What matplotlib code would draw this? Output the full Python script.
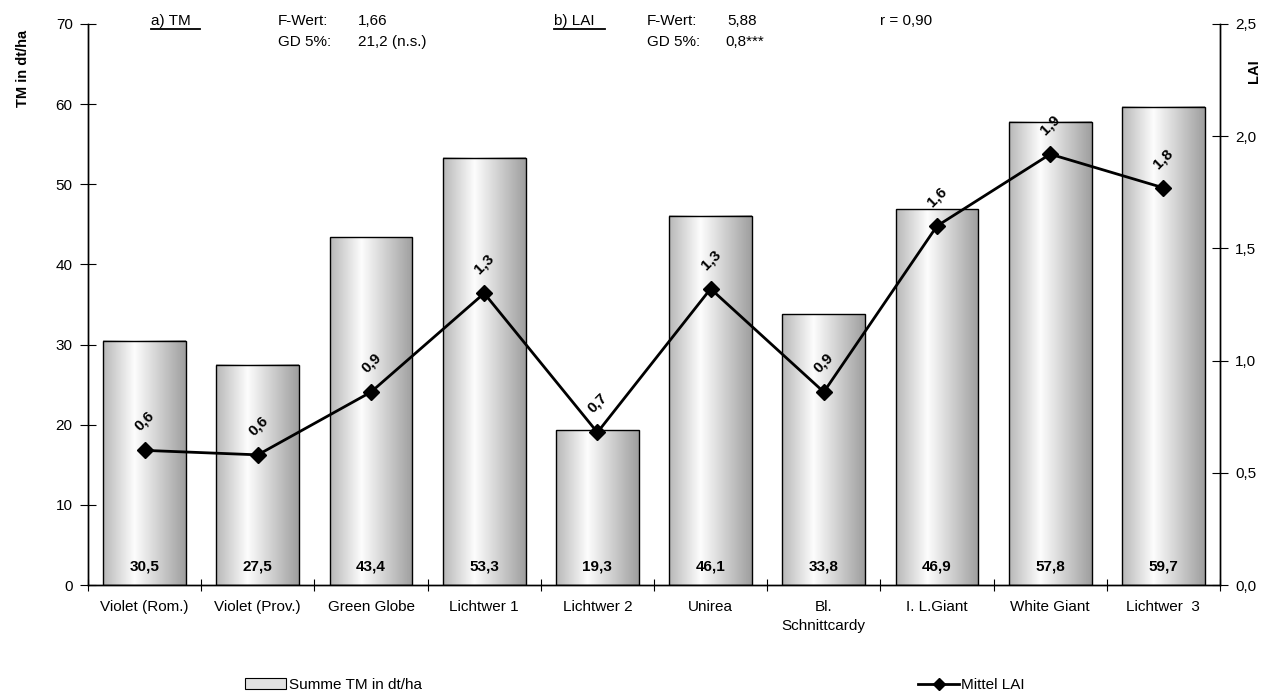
import numpy as np
import matplotlib.pyplot as plt
from matplotlib.lines import Line2D
from matplotlib.patches import Patch

plt.rcParams['font.family'] = ['Liberation Sans', 'DejaVu Sans']

# Daten
sorten = ['Violet (Rom.)', 'Violet (Prov.)', 'Green Globe', 'Lichtwer 1', 'Lichtwer 2',
          'Unirea', 'Bl.\nSchnittcardy', 'I. L.Giant', 'White Giant', 'Lichtwer  3']
tm = [30.5, 27.5, 43.4, 53.3, 19.3, 46.1, 33.8, 46.9, 57.8, 59.7]
lai = [0.60, 0.58, 0.86, 1.30, 0.68, 1.32, 0.86, 1.60, 1.92, 1.77]
lai_txt = ['0,6', '0,6', '0,9', '1,3', '0,7', '1,3', '0,9', '1,6', '1,9', '1,8']
tm_txt = ['30,5', '27,5', '43,4', '53,3', '19,3', '46,1', '33,8', '46,9', '57,8', '59,7']

fig = plt.figure(figsize=(12.71, 6.93), dpi=100)
ax = fig.add_axes([0.06924, 0.15584, 0.89064, 0.80953])
ax2 = ax.twinx()

x = np.arange(len(sorten))
bars = ax.bar(x, tm, width=0.73, facecolor='none', edgecolor='black', linewidth=1.0, zorder=3)

# Farbverlauf in den Balken (hell links der Mitte, dunkler zu den Rändern)
prof = np.interp(np.linspace(0, 1, 200), [0, 0.38, 1], [0.72, 0.99, 0.62])
grad = np.tile(prof, (2, 1))
for b in bars:
    x0, w, h = b.get_x(), b.get_width(), b.get_height()
    ax.imshow(grad, cmap='gray', vmin=0, vmax=1, aspect='auto',
              extent=[x0, x0 + w, 0, h], zorder=2)

for xi, t in zip(x, tm_txt):
    ax.annotate(t, (xi, 0), xytext=(0, 13), textcoords='offset points',
                ha='center', va='center', fontsize=11, fontweight='bold', zorder=5)

ax.set_xlim(-0.5, len(sorten) - 0.5)
ax.set_ylim(0, 70)
ax.set_yticks(range(0, 71, 10))
ax.set_xticks(x)
ax.set_xticklabels(sorten, fontsize=11, linespacing=1.45)
ax.set_xticks(np.arange(-0.5, len(sorten)), minor=True)
ax.tick_params(axis='x', which='major', length=0, pad=11)
ax.tick_params(axis='x', which='minor', direction='inout', length=9, width=0.8)
ax.tick_params(axis='y', direction='inout', length=12, width=0.8, labelsize=11, pad=5)

# LAI-Linie
ax2.plot(x, lai, color='black', lw=2, marker='D', markersize=8, zorder=6)
for xi, yi, t in zip(x, lai, lai_txt):
    ax2.annotate(t, (xi, yi), xytext=(0, 21), textcoords='offset points', rotation=45,
                 ha='center', va='center', fontsize=11, fontweight='bold')
ax2.set_ylim(0, 2.5)
ax2.set_yticks(np.arange(0, 2.51, 0.5))
ax2.set_yticklabels([f'{v:.1f}'.replace('.', ',') for v in np.arange(0, 2.51, 0.5)])
ax2.tick_params(axis='y', direction='inout', length=12, width=0.8, labelsize=11, pad=5)

for a in (ax, ax2):
    a.spines['top'].set_visible(False)
    for s in ('left', 'right', 'bottom'):
        a.spines[s].set_linewidth(1.0)
ax.set_zorder(ax2.get_zorder() - 1)
ax2.patch.set_visible(False)

# Achsentitel
fig.text(23 / 1271, 1 - 68 / 693, 'TM in dt/ha', rotation=90, ha='center', va='center',
         fontsize=10.5, fontweight='bold')
fig.text(1254 / 1271, 1 - 71 / 693, 'LAI', rotation=90, ha='center', va='center',
         fontsize=10.5, fontweight='bold')

# Statistik oben
W, H = 1271, 693
def ftext(px, py, s):
    fig.text(px / W, 1 - py / H, s, ha='left', va='center', fontsize=11)

ftext(151, 21, 'a) TM')
ftext(278, 21, 'F-Wert:')
ftext(358, 21, '1,66')
ftext(278, 42, 'GD 5%:')
ftext(358, 42, '21,2 (n.s.)')
ftext(554, 21, 'b) LAI')
ftext(647, 21, 'F-Wert:')
ftext(727, 21, '5,88')
ftext(647, 42, 'GD 5%:')
ftext(725, 42, '0,8***')
ftext(880, 21, 'r = 0,90')
for x0, x1 in [(151, 200), (554, 605)]:
    fig.add_artist(Line2D([x0 / W, x1 / W], [1 - 29 / H, 1 - 29 / H], color='black', lw=1.3))

# Legende
h1 = Patch(facecolor='#e2e2e2', edgecolor='black', linewidth=0.8)
h2 = Line2D([], [], color='black', lw=2, marker='D', markersize=6)
fig.legend([h1], ['Summe TM in dt/ha'], loc='center left', frameon=False, fontsize=11,
           bbox_to_anchor=(245 / W, 1 - 685 / H), handlelength=2.7, handletextpad=0.2,
           borderpad=0, borderaxespad=0)
fig.legend([h2], ['Mittel LAI'], loc='center left', frameon=False, fontsize=11,
           bbox_to_anchor=(918 / W, 1 - 685 / H), handlelength=2.7, handletextpad=0.1,
           borderpad=0, borderaxespad=0)

fig.savefig('out.png', dpi=100)
